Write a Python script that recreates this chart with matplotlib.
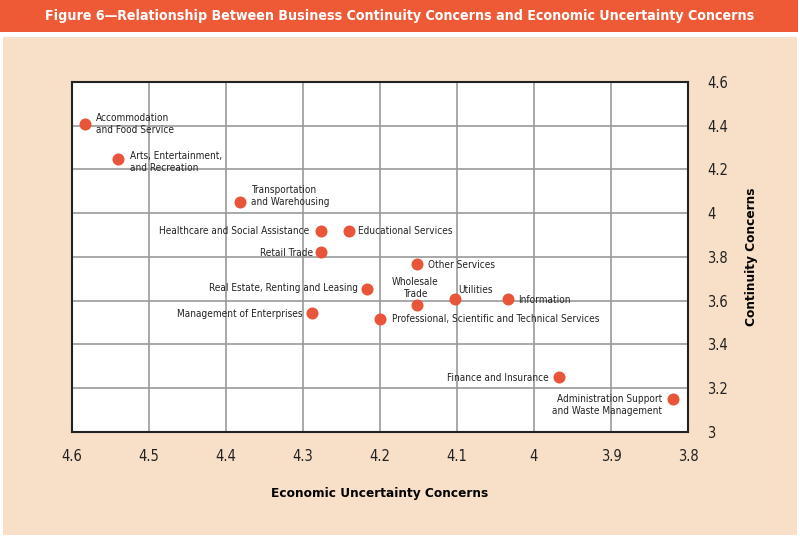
import matplotlib
matplotlib.use("Agg")
from matplotlib import pyplot as plt
from matplotlib.patches import Rectangle

# 業種ごとのデータ
industries = [
    "Accommodation\nand Food Service",
    "Arts, Entertainment,\nand Recreation",
    "Transportation\nand Warehousing",
    "Healthcare and Social Assistance",
    "Educational Services",
    "Retail Trade",
    "Other Services",
    "Real Estate, Renting and Leasing",
    "Wholesale\nTrade",
    "Utilities",
    "Information",
    "Management of Enterprises",
    "Professional, Scientific and Technical Services",
    "Finance and Insurance",
    "Administration Support\nand Waste Management",
]
economic = [4.583, 4.540, 4.382, 4.277, 4.240, 4.277, 4.152, 4.217,
            4.152, 4.103, 4.034, 4.288, 4.200, 3.968, 3.819]
continuity = [4.408, 4.248, 4.051, 3.919, 3.919, 3.823, 3.768, 3.654,
              3.581, 3.608, 3.608, 3.544, 3.517, 3.251, 3.151]

x_ticks = [4.6, 4.5, 4.4, 4.3, 4.2, 4.1, 4.0, 3.9, 3.8]
x_tick_labels = ["4.6", "4.5", "4.4", "4.3", "4.2", "4.1", "4", "3.9", "3.8"]
y_ticks = [3.0, 3.2, 3.4, 3.6, 3.8, 4.0, 4.2, 4.4, 4.6]
y_tick_labels = ["3", "3.2", "3.4", "3.6", "3.8", "4", "4.2", "4.4", "4.6"]

# ラベル位置 (offset pixels, ha)
label_pos = [
    ((11, 0), "left"), ((12, -3), "left"), ((11, 6), "left"),
    ((-11, 0), "right"), ((9, 0), "left"), ((-8, -1), "right"),
    ((11, -1), "left"), ((-9, 1), "right"), ((-2, 17), "center"),
    ((4, 9), "left"), ((10, -1), "left"), ((-10, -1), "right"),
    ((12, 0), "left"), ((-10, -1), "right"), ((-11, -6), "right"),
]

narrow = ["Liberation Sans Narrow", "DejaVu Sans"]
dot_color = "#e8553a"
peach = "#f8e0c8"

fig = plt.figure(figsize=(8, 5.39), dpi=100)
fig.patch.set_facecolor("white")
# 背景とタイトル帯
fig.patches.append(Rectangle((0.004, 0.007), 0.992, 0.924, transform=fig.transFigure,
                             facecolor=peach, edgecolor="none", zorder=-2))
fig.patches.append(Rectangle((0.0, 0.941), 0.997, 0.059, transform=fig.transFigure,
                             facecolor="#ee5a36", edgecolor="none", zorder=-2))
fig.text(0.5, 0.970,
         "Figure 6\u2014Relationship Between Business Continuity Concerns and Economic Uncertainty Concerns",
         color="white", fontsize=10.2, fontweight="bold", family=narrow, stretch="condensed",
         ha="center", va="center")

ax = fig.add_axes([0.09, 0.1985, 0.77, 0.6495])
ax.set_facecolor("white")
ax.scatter(economic, continuity, s=75, color=dot_color, zorder=3, linewidths=0)
for name, x, y, (off, ha) in zip(industries, economic, continuity, label_pos):
    ax.annotate(name, (x, y), xytext=off, textcoords="offset pixels",
                ha=ha, va="center", multialignment=ha,
                fontsize=7.2, family=narrow, stretch="condensed",
                color="#222222", zorder=4)

ax.set_xlim(4.6, 3.8)
ax.set_ylim(3.0, 4.6)
ax.set_xticks(x_ticks)
ax.set_xticklabels(x_tick_labels)
ax.set_yticks(y_ticks)
ax.set_yticklabels(y_tick_labels)
ax.yaxis.tick_right()
ax.yaxis.set_label_position("right")
ax.tick_params(axis="both", length=0, labelsize=10.5, colors="#222222")
ax.tick_params(axis="x", pad=12)
ax.tick_params(axis="y", pad=14)
for lab in ax.get_xticklabels() + ax.get_yticklabels():
    lab.set_family(narrow)
    lab.set_stretch("condensed")
ax.grid(True, color="#9a9a9a", linewidth=1.2)
ax.set_axisbelow(True)
for sp in ax.spines.values():
    sp.set_color("#222222")
    sp.set_linewidth(1.5)

ax.set_xlabel("Economic Uncertainty Concerns", fontsize=9.7, fontweight="bold",
              family=narrow, stretch="condensed", labelpad=17)
ax.set_ylabel("Continuity Concerns", fontsize=9.7, fontweight="bold",
              family=narrow, stretch="condensed", labelpad=12, rotation=90)

fig.savefig("out.png", dpi=100, facecolor=fig.get_facecolor())
